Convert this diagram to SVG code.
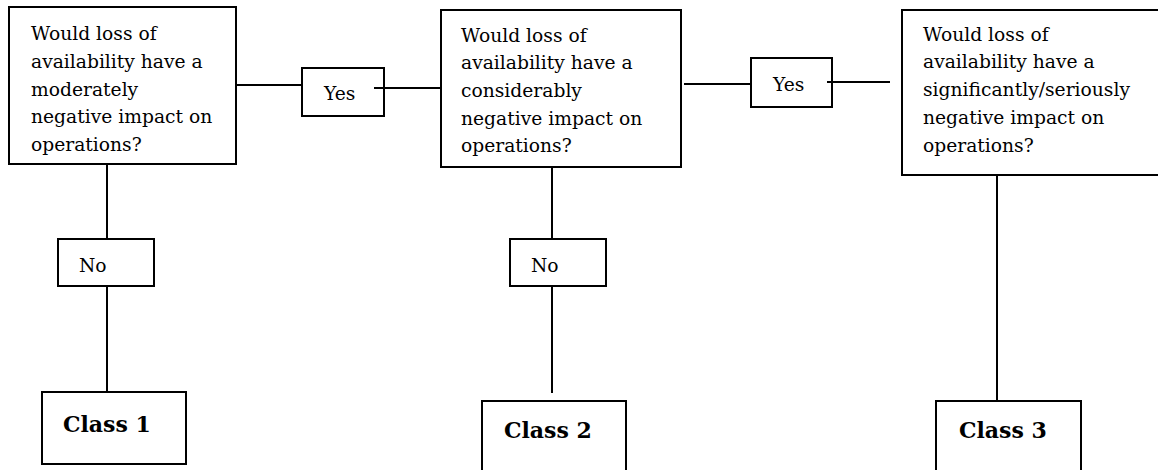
<svg xmlns="http://www.w3.org/2000/svg" width="1158" height="470" viewBox="0 0 1158 470">
<style>
.box{fill:#fff;stroke:#000;stroke-width:2}
.ln{stroke:#000;stroke-width:2;fill:none}
.q{font-family:'DejaVu Serif',serif;font-size:18.7px;fill:#000}
.c{font-family:'DejaVu Serif',serif;font-size:22px;font-weight:bold;fill:#000}
</style>
<rect width="1158" height="470" fill="#fff"/>
<g id="connectors">
<line class="ln" x1="236" y1="85" x2="302" y2="85"/>
<line class="ln" x1="374" y1="88" x2="441" y2="88"/>
<line class="ln" x1="684" y1="84" x2="751" y2="84"/>
<line class="ln" x1="827" y1="82" x2="890" y2="82"/>
<line class="ln" x1="107" y1="164" x2="107" y2="239"/>
<line class="ln" x1="107" y1="286" x2="107" y2="392"/>
<line class="ln" x1="552" y1="167" x2="552" y2="239"/>
<line class="ln" x1="552" y1="286" x2="552" y2="393"/>
<line class="ln" x1="997" y1="175" x2="997" y2="401"/>
</g>
<g id="q1">
<rect class="box" x="9" y="7" width="227" height="157"/>
<text class="q"><tspan x="31" y="40">Would loss of</tspan><tspan x="31" y="68">availability have a</tspan><tspan x="31" y="96">moderately</tspan><tspan x="31" y="123">negative impact on</tspan><tspan x="31" y="151">operations?</tspan></text>
</g>
<g id="yes1">
<rect class="box" x="302" y="68" width="82" height="48"/>
<line class="ln" x1="374" y1="88" x2="384" y2="88"/>
<text class="q" x="324" y="100">Yes</text>
</g>
<g id="q2">
<rect class="box" x="441" y="10" width="240" height="157"/>
<text class="q"><tspan x="461" y="42">Would loss of</tspan><tspan x="461" y="69">availability have a</tspan><tspan x="461" y="97">considerably</tspan><tspan x="461" y="125">negative impact on</tspan><tspan x="461" y="152">operations?</tspan></text>
</g>
<g id="yes2">
<rect class="box" x="751" y="58" width="81" height="49"/>
<line class="ln" x1="827" y1="82" x2="832" y2="82"/>
<text class="q" x="773" y="91">Yes</text>
</g>
<g id="q3">
<rect class="box" x="902" y="10" width="260" height="165"/>
<text class="q"><tspan x="923" y="41">Would loss of</tspan><tspan x="923" y="68">availability have a</tspan><tspan x="923" y="96">significantly/seriously</tspan><tspan x="923" y="124">negative impact on</tspan><tspan x="923" y="152">operations?</tspan></text>
</g>
<g id="no1">
<rect class="box" x="58" y="239" width="96" height="47"/>
<text class="q" x="79" y="272">No</text>
</g>
<g id="no2">
<rect class="box" x="510" y="239" width="96" height="47"/>
<text class="q" x="531" y="272">No</text>
</g>
<g id="class1">
<rect class="box" x="42" y="392" width="144" height="72"/>
<text class="c" x="63" y="432">Class 1</text>
</g>
<g id="class2">
<rect class="box" x="482" y="401" width="144" height="80"/>
<text class="c" x="504" y="438">Class 2</text>
</g>
<g id="class3">
<rect class="box" x="936" y="401" width="145" height="80"/>
<text class="c" x="959" y="438">Class 3</text>
</g>
</svg>
